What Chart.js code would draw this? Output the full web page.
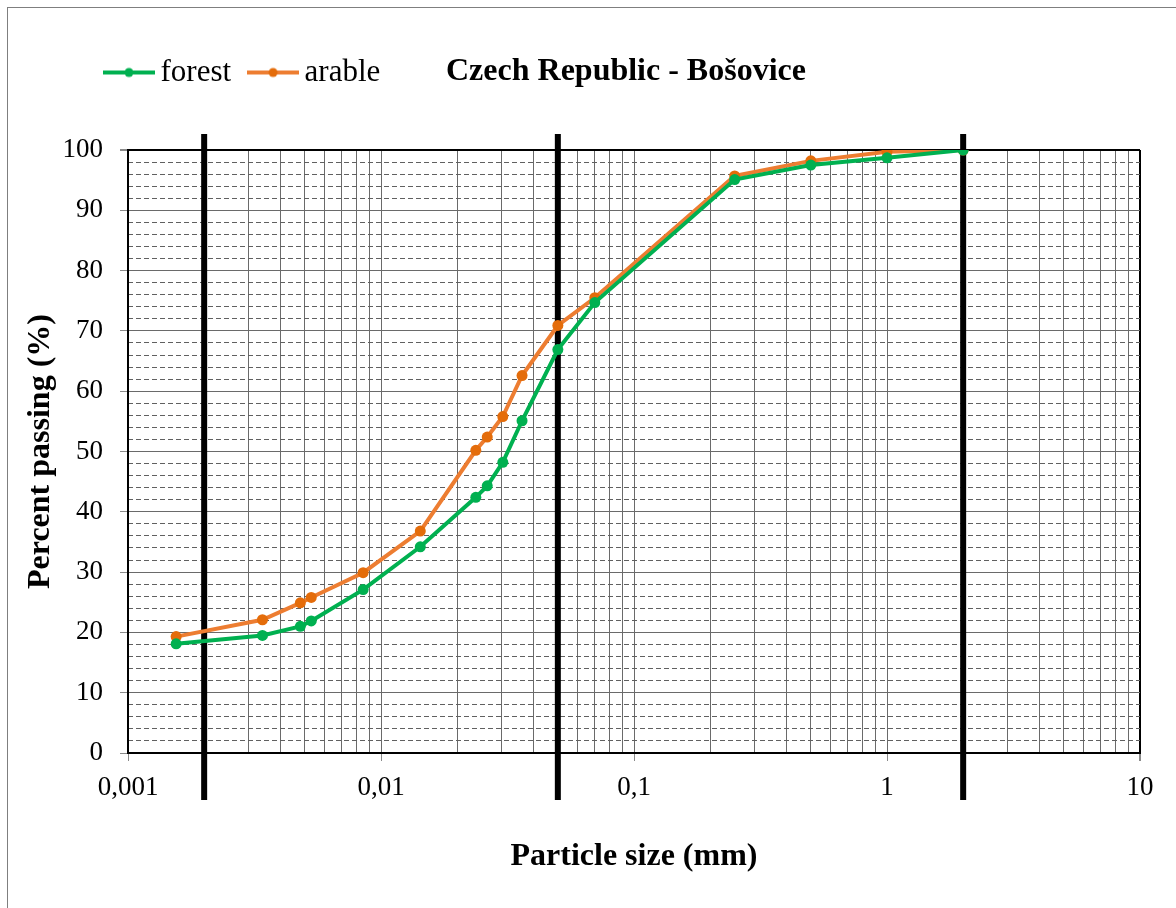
<!DOCTYPE html>
<html>
<head>
<meta charset="utf-8">
<script src="https://cdn.jsdelivr.net/npm/chart.js@4/dist/chart.umd.min.js"></script>
<style>
  html, body { margin: 0; padding: 0; background: #fff; width: 1176px; height: 908px; overflow: hidden; }
  #frame { position: absolute; left: 7px; top: 7px; width: 1400px; height: 1200px;
           border-left: 1px solid #7f7f7f; border-top: 1px solid #7f7f7f; }
  #c { position: absolute; left: 0; top: 0; }
</style>
</head>
<body>
<div id="frame"></div>
<canvas id="c" width="1176" height="908"></canvas>
<script>
// ---- data ----
const particleSize = [0.00155, 0.0034, 0.0048, 0.0053, 0.0085, 0.0143, 0.0237, 0.0263, 0.0303, 0.0361, 0.05, 0.07, 0.25, 0.5, 1, 2];
const forest = [18.1, 19.5, 21.0, 21.9, 27.1, 34.2, 42.4, 44.3, 48.2, 55.1, 66.9, 74.7, 95.1, 97.5, 98.7, 100];
const arable = [19.3, 22.1, 24.9, 25.8, 29.9, 36.8, 50.2, 52.4, 55.8, 62.6, 70.9, 75.5, 95.7, 98.2, 99.7, 100];
const seriesNames = ['forest', 'arable'];
const xDecades = [0.001, 0.01, 0.1, 1, 10];
const xDecadeLabels = ['0,001', '0,01', '0,1', '1', '10'];
const yMajorTicks = [0, 10, 20, 30, 40, 50, 60, 70, 80, 90, 100];
const fractionBounds = [0.002, 0.05, 2]; // clay / silt / sand / gravel limits
const chartTitle = 'Czech Republic - Bošovice';
const xTitle = 'Particle size (mm)';
const yTitle = 'Percent passing (%)';

const SERIF = "'Liberation Serif', 'Times New Roman', Times, serif";
const GRID = '#6a6a6a';
const colors = { forest: { line: '#00B050', point: '#00B050' }, arable: { line: '#ED7D31', point: '#E46C0A' } };

// x ticks: 1..9 in every decade, then the last decade
const xTicks = [];
for (let i = 0; i < xDecades.length - 1; i++) {
  for (let m = 1; m <= 9; m++) xTicks.push(m === 1 ? xDecades[i] : m * xDecades[i]);
}
xTicks.push(xDecades[xDecades.length - 1]);
const yMinorTicks = [];
for (let v = 0; v <= 100; v += 2) yMinorTicks.push(v);

function legendSample(lineColor, dotColor) {
  const cv = document.createElement('canvas');
  cv.width = 52; cv.height = 12;
  const g = cv.getContext('2d');
  g.strokeStyle = lineColor; g.lineWidth = 4; g.lineCap = 'butt';
  g.beginPath(); g.moveTo(0, 6); g.lineTo(52, 6); g.stroke();
  g.fillStyle = dotColor; g.beginPath(); g.arc(26, 6, 4.5, 0, Math.PI * 2); g.fill();
  return cv;
}
const samples = [legendSample(colors.forest.line, colors.forest.point), legendSample(colors.arable.line, colors.arable.point)];

const boundsPlugin = {
  id: 'fractionBounds',
  beforeDatasetsDraw(chart) {
    const { ctx, chartArea } = chart;
    const x = chart.scales.x;
    ctx.save();
    ctx.strokeStyle = '#000';
    ctx.lineWidth = 6;
    fractionBounds.forEach(b => {
      const px = x.getPixelForValue(b);
      ctx.beginPath();
      ctx.moveTo(px, chartArea.top - 16);
      ctx.lineTo(px, chartArea.bottom + 47);
      ctx.stroke();
    });
    ctx.restore();
  }
};

const headerPlugin = {
  id: 'headerRow',
  afterLayout(chart) {
    const lg = chart.legend;
    if (lg) { const w = lg.right - lg.left; lg.left = 87; lg.right = 87 + w; }
    const tb = chart.titleBlock;
    if (tb) {
      const h = tb.bottom - tb.top;
      tb.left = 446; tb.right = 1170;
      tb.top = 72 - 38.4 / 2; tb.bottom = tb.top + h;
    }
  }
};

Chart.defaults.font.family = SERIF;
Chart.defaults.color = '#000';

new Chart(document.getElementById('c'), {
  type: 'line',
  data: {
    datasets: [
      {
        label: seriesNames[0],
        data: particleSize.map((x, i) => ({ x, y: forest[i] })),
        borderColor: colors.forest.line, backgroundColor: colors.forest.point,
        pointBackgroundColor: colors.forest.point, pointBorderColor: colors.forest.point,
        borderWidth: 4, pointRadius: 5.5, pointBorderWidth: 0, tension: 0, fill: false
      },
      {
        label: seriesNames[1],
        data: particleSize.map((x, i) => ({ x, y: arable[i] })),
        borderColor: colors.arable.line, backgroundColor: colors.arable.point,
        pointBackgroundColor: colors.arable.point, pointBorderColor: colors.arable.point,
        borderWidth: 4, pointRadius: 5.5, pointBorderWidth: 0, tension: 0, fill: false
      }
    ]
  },
  options: {
    responsive: false,
    animation: false,
    devicePixelRatio: 1,
    layout: { padding: { left: 8, right: 36, top: 31, bottom: 20 } },
    plugins: {
      tooltip: { enabled: false },
      legend: {
        position: 'top', align: 'start',
        labels: {
          usePointStyle: true, pointStyleWidth: 32, padding: 26,
          font: { size: 31, family: SERIF }, color: '#000',
          generateLabels: chart => chart.data.datasets.map((ds, i) => ({
            text: ds.label, pointStyle: samples[i], fillStyle: 'transparent',
            strokeStyle: 'transparent', lineWidth: 0, hidden: false, datasetIndex: i, fontColor: '#000'
          }))
        }
      },
      title: {
        display: true, text: chartTitle, align: 'start', position: 'top', weight: 500,
        font: { size: 32, weight: 'bold', family: SERIF }, color: '#000',
        padding: { top: 0, bottom: 13.6 }
      }
    },
    scales: {
      x: {
        type: 'logarithmic', position: 'bottom', min: 0.001, max: 10,
        afterBuildTicks: s => { s.ticks = xTicks.map(v => ({ value: v })); },
        afterFit: s => { s.height = 135; },
        ticks: {
          autoSkip: false, maxRotation: 0, minRotation: 0, padding: 11,
          font: { size: 27, family: SERIF }, color: '#000',
          callback: v => { const k = xDecades.indexOf(v); return k >= 0 ? xDecadeLabels[k] : ''; }
        },
        grid: {
          color: c => (c.tick && c.tick.value === 10) ? '#000' : GRID,
          lineWidth: c => (c.tick && c.tick.value === 10) ? 2 : 1,
          tickColor: c => (c.tick && xDecades.includes(c.tick.value)) ? '#8a8a8a' : 'transparent',
          tickLength: 8, drawTicks: true
        },
        border: { display: true, color: '#000', width: 2 },
        title: {
          display: true, text: xTitle, font: { size: 32, weight: 'bold', family: SERIF }, color: '#000',
          padding: { top: 0, bottom: 11.8 }
        }
      },
      y: {
        type: 'linear', position: 'left', min: 0, max: 100,
        afterBuildTicks: s => { s.ticks = yMajorTicks.map(v => ({ value: v })); },
        afterFit: s => { s.width = 120; },
        ticks: { padding: 17, font: { size: 27, family: SERIF }, color: '#000' },
        grid: {
          color: c => (c.tick && c.tick.value === 100) ? '#000' : GRID,
          lineWidth: c => (c.tick && c.tick.value === 100) ? 2 : 1,
          tickColor: '#8a8a8a', tickLength: 8
        },
        border: { display: true, color: '#000', width: 2 },
        title: {
          display: true, text: yTitle, font: { size: 32, weight: 'bold', family: SERIF }, color: '#000',
          padding: { top: 13.8, bottom: 0 }
        }
      },
      y2: {
        type: 'linear', position: 'left', min: 0, max: 100,
        afterBuildTicks: s => { s.ticks = yMinorTicks.map(v => ({ value: v })); },
        afterFit: s => { s.width = 0; },
        ticks: { display: false },
        grid: {
          drawTicks: false,
          color: c => (c.tick && c.tick.value % 10 === 0) ? 'rgba(0,0,0,0)' : '#606060',
          lineWidth: 1
        },
        border: { display: false, dash: [5, 3] }
      }
    }
  },
  plugins: [boundsPlugin, headerPlugin]
});
</script>
</body>
</html>
